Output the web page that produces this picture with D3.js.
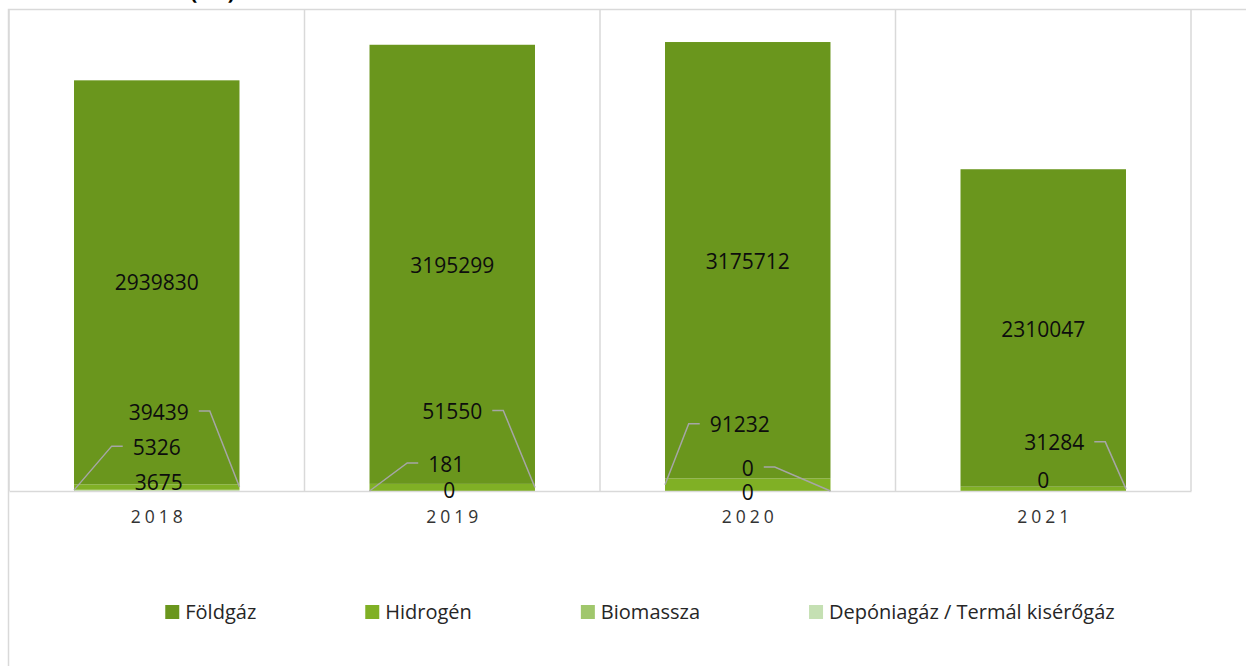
<!DOCTYPE html>
<html>
<head>
<meta charset="utf-8">
<script src="https://cdn.jsdelivr.net/npm/d3@7"></script>
<style>
  body { margin: 0; background: #fff; }
  svg { display: block; font-family: "Open Sans", "Noto Sans", sans-serif; }
</style>
</head>
<body>
<div class="chart"></div>
<script>
// chart data
var years = ["2018", "2019", "2020", "2021"];
var seriesNames = ["Földgáz", "Hidrogén", "Biomassza", "Depóniagáz / Termál kisérőgáz"];
var foldgaz   = [2939830, 3195299, 3175712, 2310047];
var hidrogen  = [39439, 51550, 91232, 31284];
var biomassza = [5326, 181, 0, null];
var deponia   = [3675, 0, 0, 0];
var colors    = ["#6a961d", "#80b025", "#a0c76c", "#c5e0b3"];

// label nudges (px) relative to band centre / segment middle, as Excel placed them
var labelNudge = {
  "Földgáz":   [[0, 0, null], [0, 1, null], [0, 1, null], [0, 1, null]],
  "Hidrogén":  [[2, -75, "right"], [0, -76, "right"], [-8, -60, "left"], [11, -46, "right"]],
  "Biomassza": [[0, -43, "left"], [-6, -27, "left"], [0, -23, "right"], null],
  "Depóniagáz / Termál kisérőgáz": [[2, -8, null], [-3, -1, null], [0, 1, null], [0, -11, null]]
};

WIDTH = 1246
HEIGHT = 666
PLOT_LEFT = 9
PLOT_RIGHT = 1191
PLOT_TOP = 10
PLOT_BOTTOM = 491
GRID = "#d9d9d9"

var svg = d3.select(".chart").append("svg")
  .attr("width", WIDTH)
  .attr("height", HEIGHT);

// cut-off title at the very top
svg.append("text")
  .attr("x", 190)
  .attr("y", -1)
  .style("font-size", "22px")
  .style("font-weight", "bold")
  .style("fill", "#000")
  .text("(m³)");

// outer chart frame (runs past the picture on right and bottom)
svg.append("rect")
  .attr("x", 8.5)
  .attr("y", 9.5)
  .attr("width", 1300)
  .attr("height", 700)
  .style("fill", "none")
  .style("stroke", GRID)
  .style("stroke-width", 1.5);

var rows = years.map(function(y, i) {
  return {
    year: y,
    "Földgáz": foldgaz[i],
    "Hidrogén": hidrogen[i],
    "Biomassza": biomassza[i],
    "Depóniagáz / Termál kisérőgáz": deponia[i]
  };
});

// stacked bottom -> top
var stackKeys = seriesNames.slice().reverse();
var stacked = d3.stack()
  .keys(stackKeys)
  .value(function(d, k) { return d[k] || 0; })(rows);

var x = d3.scaleBand()
  .domain(years)
  .range([PLOT_LEFT, PLOT_RIGHT])
  .paddingInner(0.44)
  .paddingOuter(0.22);

var y = d3.scaleLinear()
  .domain([0, 3500000])
  .range([PLOT_BOTTOM, PLOT_TOP]);

// vertical category separators
var step = x.step();
var edges = d3.range(years.length + 1).map(function(i) { return PLOT_LEFT + i * step; });
svg.append("g").selectAll("line")
  .data(edges)
  .enter().append("line")
  .attr("x1", function(d) { return d; })
  .attr("x2", function(d) { return d; })
  .attr("y1", PLOT_TOP)
  .attr("y2", PLOT_BOTTOM)
  .style("stroke", GRID)
  .style("stroke-width", 1.5);

// bars
svg.append("g").selectAll("g")
  .data(stacked)
  .enter().append("g")
  .style("fill", function(d) { return colors[seriesNames.indexOf(d.key)]; })
  .selectAll("rect")
  .data(function(d) { return d; })
  .enter().append("rect")
  .attr("x", function(d) { return x(d.data.year); })
  .attr("width", x.bandwidth())
  .attr("y", function(d) { return y(d[1]); })
  .attr("height", function(d) { return y(d[0]) - y(d[1]); });

// category axis
var xAxis = svg.append("g")
  .attr("transform", "translate(0," + PLOT_BOTTOM + ")")
  .call(d3.axisBottom(x).tickSize(0).tickPadding(20));
xAxis.select(".domain").style("stroke", GRID).style("stroke-width", 1.5);
xAxis.selectAll("text")
  .style("font-family", "\"Open Sans\", sans-serif")
  .style("font-size", "17.5px")
  .style("letter-spacing", "4px")
  .style("fill", "#333")
  .attr("dx", "2px");

// data labels with leader lines
var labelLayer = svg.append("g");
stacked.forEach(function(s) {
  s.forEach(function(d, i) {
    var raw = rows[i][s.key];
    var nudge = labelNudge[s.key][i];
    if (raw === null || raw === undefined || !nudge) return;
    var cx = x(d.data.year) + x.bandwidth() / 2 + nudge[0];
    var midY = y((d[0] + d[1]) / 2);
    var cy = midY + nudge[1];
    var t = labelLayer.append("text")
      .attr("x", cx)
      .attr("y", cy)
      .attr("text-anchor", "middle")
      .attr("dy", "0.36em")
      .style("font-size", "21px")
      .style("fill", "#0d0d0d")
      .text(raw);
    if (nudge[2]) {
      var w = t.node().getComputedTextLength();
      var x0, x1, xe;
      if (nudge[2] === "right") {
        x0 = cx + w / 2 + 10; x1 = x0 + 11; xe = x(d.data.year) + x.bandwidth();
      } else {
        x0 = cx - w / 2 - 10; x1 = x0 - 11; xe = x(d.data.year);
      }
      labelLayer.append("polyline")
        .attr("points", [[x0, cy - 1], [x1, cy - 1], [xe, midY]].join(" "))
        .style("fill", "none")
        .style("stroke", "#a6a6a6")
        .style("stroke-width", 1.5);
    }
  });
});

// legend
var legend = svg.append("g").attr("transform", "translate(0,612)");
var items = legend.selectAll("g")
  .data(seriesNames)
  .enter().append("g");
items.append("rect")
  .attr("y", -7)
  .attr("width", 14)
  .attr("height", 14)
  .style("fill", function(d, i) { return colors[i]; });
items.append("text")
  .attr("x", 20)
  .attr("dy", "0.36em")
  .style("font-size", "20px")
  .style("fill", "#262626")
  .text(function(d) { return d; });

var pos = 0, offsets = [];
items.each(function() {
  offsets.push(pos);
  pos += 20 + d3.select(this).select("text").node().getComputedTextLength() + 109;
});
var total = pos - 109;
var start = 640 - total / 2;
items.attr("transform", function(d, i) { return "translate(" + (start + offsets[i]) + ",0)"; });
</script>
</body>
</html>
